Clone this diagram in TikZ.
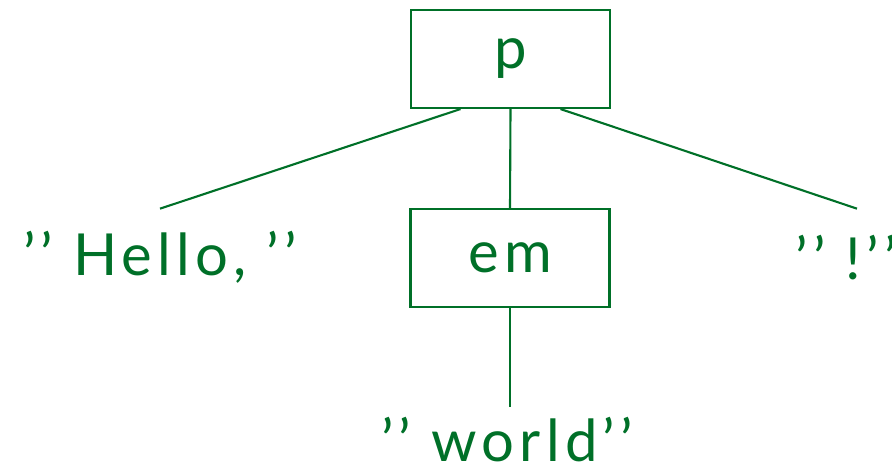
\documentclass[tikz,border=0pt]{standalone}
\usepackage{fontspec}
\setmainfont{Lato}[LetterSpace=9]
\usepackage{tikz}
\usetikzlibrary{positioning}
\definecolor{treegreen}{RGB}{0,112,40}

\begin{document}
\begin{tikzpicture}[x=0.02cm,y=-0.02cm,
  every node/.style={text=treegreen,font=\fontsize{33}{40}\selectfont},
  tag/.style={draw=treegreen,line width=1.2pt,minimum width=3.98cm,minimum height=1.96cm,inner sep=0pt},
  leaf/.style={inner sep=0pt,text depth=0pt,anchor=base},
  edge/.style={draw=treegreen,line width=1.2pt}]
\useasboundingbox (0,0) rectangle (892,471);
\node[tag] (p) at (510.5,59) {p};
\node[tag] (em) at (510,258) {em};
\node[leaf,text height=1.32cm] (hello) at (160,275) {’’ Hello, ’’};
\node[leaf,text height=1.4cm] (bang) at (846,279) {’’ !’’};
\node[leaf,text height=1.08cm] (world) at (507,461) {’’ world’’};
\draw[edge] ([xshift=-1cm]p.south) -- (hello.north);
\draw[edge] (p.south) -- (em.north);
\draw[edge] ([xshift=1cm]p.south) -- (bang.north -| 857,0);
\draw[edge] (em.south) -- (world.north -| em.south);
\end{tikzpicture}
\end{document}
